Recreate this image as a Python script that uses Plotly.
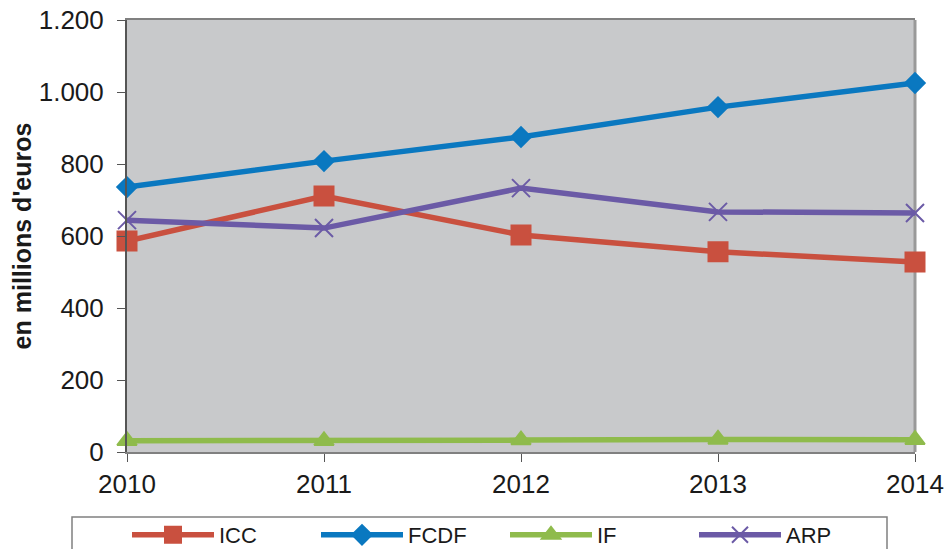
import plotly.graph_objects as go

years = [2010, 2011, 2012, 2013, 2014]
icc = [586, 711, 603, 556, 528]
fcdf = [736, 808, 875, 958, 1025]
if_vals = [31, 31, 33, 35, 34]
arp = [644, 622, 733, 667, 664]
y_ticks = [0, 200, 400, 600, 800, 1000, 1200]

series = [
    ("ICC", icc, "#c9503f", "square", 19),
    ("FCDF", fcdf, "#0a78c0", "diamond", 15),
    ("IF", if_vals, "#8fbb4c", "triangle-up", 17),
    ("ARP", arp, "#6b5aa6", "x-thin", 18),
]

fig = go.Figure()
for name, vals, color, sym, size in series:
    fig.add_trace(go.Scatter(
        x=years, y=vals, name=name, mode="lines+markers",
        line=dict(color=color, width=5.5),
        marker=dict(symbol=sym, size=size, color=color,
                    line=dict(color=color, width=2)),
        cliponaxis=False,
    ))

# body margin is removed by the post script, so figure px == screen px
W, H = 945, 549
L = 127
T = 20
R = W - 915
B = H - 452
pw, ph = W - L - R, H - T - B

def px_x(x):
    return (x - L) / pw

def px_y(y):
    return (H - B - y) / ph

fig.update_layout(
    width=W, height=H,
    margin=dict(l=L, r=R, t=T, b=B, autoexpand=False),
    paper_bgcolor="white",
    plot_bgcolor="#c8c9cb",
    separators=",.",
    font=dict(family="Liberation Sans, Arial, sans-serif", size=26, color="#1a1a1a"),
    showlegend=True,
    legend=dict(
        orientation="h", x=px_x(127), y=px_y(514), xanchor="left", yanchor="top",
        borderwidth=0, bgcolor="rgba(0,0,0,0)",
        font=dict(size=22),
        entrywidth=92, itemwidth=82,
        traceorder="normal",
    ),
    xaxis=dict(
        range=[2010, 2014], tickvals=years, ticktext=[str(y) for y in years],
        showgrid=False, zeroline=False,
        showline=True, linecolor="#808080", linewidth=2, mirror=True,
        ticks="outside", ticklen=8, tickcolor="#555555", ticklabelstandoff=0,
        ticklabeloverflow="allow",
    ),
    yaxis=dict(
        range=[0, 1200], tickvals=y_ticks, tickformat=",d",
        showgrid=False, zeroline=False,
        showline=True, linecolor="#555555", linewidth=2,
        ticks="outside", ticklen=8, tickcolor="#555555", ticklabelstandoff=8,
        ticklabeloverflow="allow",
        title=dict(text="<b>en millions d'euros</b>", font=dict(size=25), standoff=0),
    ),
    shapes=[
        dict(type="line", xref="paper", yref="paper", x0=1, x1=1, y0=0, y1=1,
             line=dict(color="#999999", width=3), layer="below"),
        dict(type="rect", xref="paper", yref="paper",
             x0=px_x(72), x1=px_x(887), y0=px_y(560), y1=px_y(517),
             line=dict(color="#808080", width=1.5), fillcolor="rgba(0,0,0,0)"),
    ],
)

fig.write_html(
    "out.html",
    config={"displayModeBar": False},
    post_script="document.body.style.margin='0';document.body.style.overflow='hidden';",
)
